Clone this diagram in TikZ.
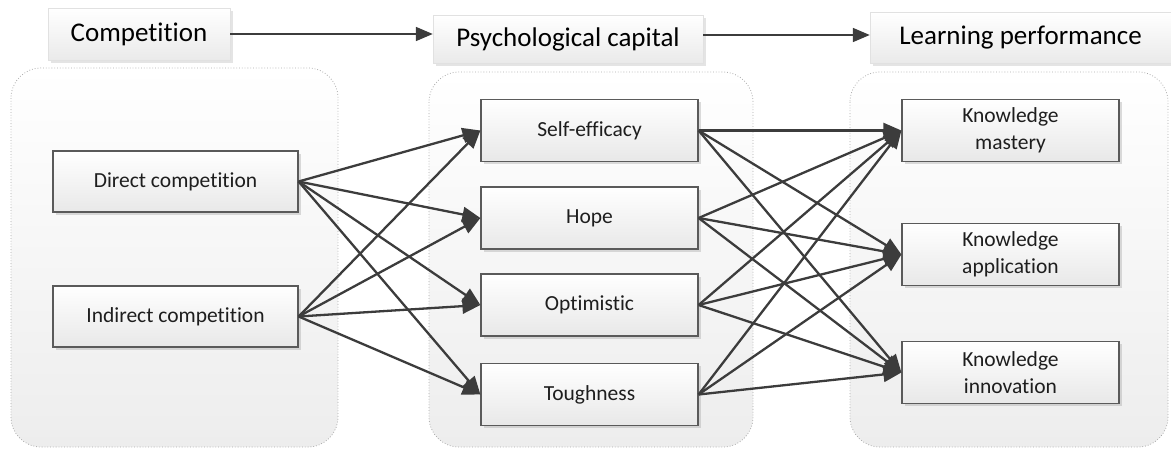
\documentclass[tikz,border=0pt]{standalone}
\usepackage{fontspec}
\setmainfont{Carlito}[RawFeature={-liga}]
\usetikzlibrary{arrows.meta,shadows}
\definecolor{edgec}{RGB}{60,60,60}
\definecolor{boxline}{RGB}{90,90,90}
\definecolor{boxbot}{RGB}{232,232,232}
\definecolor{hdrbot}{RGB}{234,234,234}
\definecolor{hdrline}{RGB}{225,225,225}
\definecolor{panelline}{RGB}{170,170,170}
\definecolor{panelbot}{RGB}{237,237,237}
\definecolor{textc}{RGB}{30,30,30}
\begin{document}
\begin{tikzpicture}[x=1pt,y=-1pt,
  header/.style={inner sep=0pt, top color=white, bottom color=hdrbot, draw=hdrline, line width=0.4pt,
    drop shadow={shadow xshift=3pt, shadow yshift=-3pt, fill=black!30, opacity=0.35},
    font=\fontsize{27}{32}\selectfont, text=black},
  box/.style={draw=boxline, line width=1.2pt, top color=white, bottom color=boxbot,
    minimum width=217pt, minimum height=62pt, inner sep=0pt, align=center,
    font=\fontsize{21.5}{27}\selectfont, text=textc,
    drop shadow={shadow xshift=2.5pt, shadow yshift=-2.5pt, fill=black!35, opacity=0.4}},
  panel/.style={draw=panelline, dotted, line width=0.8pt, rounded corners=30pt, top color=white, bottom color=panelbot},
  link/.style={draw=edgec, line width=2.3pt, -{Triangle[length=18pt,width=15pt]}},
  hlink/.style={draw=edgec, line width=1.8pt, -{Triangle[length=17pt,width=14pt]}}
]
\useasboundingbox (0,0) rectangle (1171,450);

% panels
\draw[panel] (11,68) rectangle (338,447);
\draw[panel] (429,72) rectangle (753,447);
\draw[panel] (850,72) rectangle (1168,447);

% headers
\node[header, minimum width=182pt, minimum height=52pt] (comp) at (139,34) {Competition};
\node[header, minimum width=270pt, minimum height=48pt] (psy) at (568,39) {Psychological capital};
\node[header, minimum width=301pt, minimum height=51pt] (lp) at (1020.5,37.5) {Learning performance};
\coordinate (pe) at ([yshift=4pt]psy.east);
\draw[hlink] (comp.east) -- (comp.east -| psy.west);
\draw[hlink] (pe) -- (pe -| lp.west);

% left
\node[box, minimum width=245pt, minimum height=61pt] (dc) at (175.5,181.5) {Direct competition};
\node[box, minimum width=245pt, minimum height=61pt] (ic) at (175.5,316.5) {Indirect competition};

% middle
\node[box] (se) at (589.5,130.5) {Self-efficacy};
\node[box] (ho) at (589.5,218) {Hope};
\node[box] (op) at (589.5,305) {Optimistic};
\node[box] (to) at (589.5,394.5) {Toughness};

% right
\node[box] (km) at (1010.5,130.5) {Knowledge\\mastery};
\node[box] (ka) at (1010.5,254.5) {Knowledge\\application};
\node[box] (ki) at (1010.5,372.5) {Knowledge\\innovation};

% edges
\foreach \s in {dc,ic}
  \foreach \t in {se,ho,op,to}
    \draw[link] (\s.east) -- (\t.west);
\foreach \s in {se,ho,op,to}
  \foreach \t in {km,ka,ki}
    \draw[link] (\s.east) -- (\t.west);
\end{tikzpicture}
\end{document}
